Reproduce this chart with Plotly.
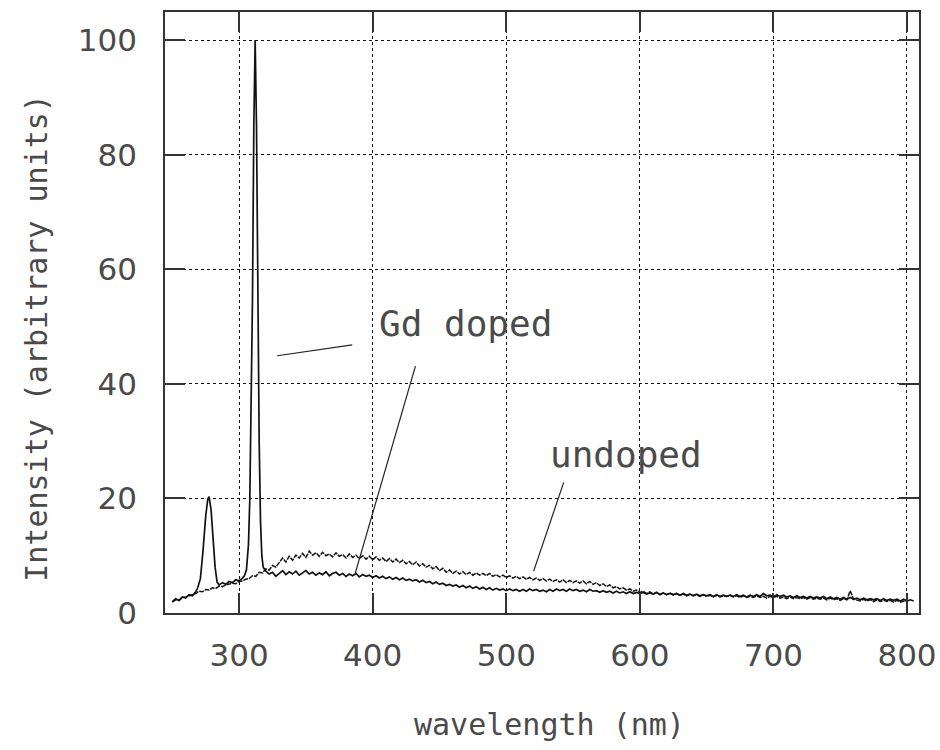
import plotly.graph_objects as go

# Gd doped sample: start of the band plus the two Gd lines (~277 nm and ~312 nm)
gd_peak_wavelength = [
    250, 252.5, 255, 257.5, 260, 262.5, 265, 267.5, 269, 271, 273, 275, 276.5,
    277.5, 279, 280.5, 282, 283.5, 285, 287.5, 290, 292.5, 295, 297.5, 300,
    302.5, 304, 305.5, 307, 308, 309, 310, 311, 312, 313, 314, 315, 316, 317,
    318, 320,
]
gd_peak_intensity = [
    2.0, 2.5, 2.2, 2.8, 2.6, 3.2, 3.0, 3.7, 4.4, 6.0, 11.0, 17.0, 19.8,
    20.3, 18.0, 13.0, 8.0, 5.4, 4.9, 5.3, 5.0, 5.5, 5.3, 5.8, 5.6,
    6.1, 6.5, 7.6, 12.0, 20.0, 35.0, 55.0, 85.0, 100.0, 85.0, 55.0, 30.0, 16.0, 10.0,
    8.0, 7.3,
]
# Gd doped sample, 322.5-800 nm in 2.5 nm steps
gd_tail_start, gd_tail_step = 322.5, 2.5
gd_tail_intensity = [
    6.8, 7.1, 6.4, 6.9, 7.4, 6.7, 7.2, 6.8, 7.3, 6.6, 7.0, 7.4, 6.8, 7.1, 6.6,
    7.0, 6.7, 7.2, 6.5, 6.9, 7.1, 6.6, 6.9, 6.4, 6.8, 6.5, 6.9, 6.3, 6.7, 6.4,
    6.6, 6.2, 6.5, 6.1, 6.4, 6.0, 6.3, 5.9, 6.2, 5.8, 6.1, 5.7, 5.9, 5.6, 5.8,
    5.4, 5.7, 5.3, 5.5, 5.1, 5.4, 5.0, 5.2, 4.8, 5.0, 4.7, 4.9, 4.5, 4.8, 4.4,
    4.7, 4.3, 4.6, 4.2, 4.5, 4.1, 4.4, 4.0, 4.3, 4.0, 4.2, 3.9, 4.2, 3.9, 4.1,
    3.8, 4.1, 3.8, 4.2, 3.9, 4.1, 3.8, 4.0, 3.7, 4.1, 3.8, 4.2, 3.9, 4.1, 3.8,
    4.2, 3.9, 4.1, 3.8, 4.0, 3.7, 4.1, 3.8, 3.9, 3.6, 3.9, 3.6, 3.8, 3.5, 3.8,
    3.5, 3.7, 3.4, 3.7, 3.4, 3.6, 3.4, 3.6, 3.3, 3.5, 3.3, 3.6, 3.2, 3.5, 3.2,
    3.4, 3.2, 3.4, 3.1, 3.4, 3.1, 3.3, 3.0, 3.3, 3.0, 3.2, 3.0, 3.2, 2.9, 3.2,
    2.9, 3.1, 2.9, 3.1, 2.9, 3.2, 2.9, 3.1, 2.8, 3.1, 2.9, 3.2, 2.9, 3.4, 3.0,
    3.1, 2.8, 3.2, 2.9, 3.1, 2.8, 3.0, 2.7, 3.0, 2.7, 2.9, 2.6, 2.9, 2.6, 2.8,
    2.6, 2.9, 2.5, 2.8, 2.5, 2.7, 2.4, 2.7, 2.4, 2.7, 2.4, 2.6, 2.3, 2.6, 2.3,
    2.5, 2.3, 2.5, 2.2, 2.5, 2.2, 2.4, 2.2, 2.4, 2.1, 2.4, 2.1, 2.3, 2.1,
]

# Undoped sample, 250-800 nm in 2.5 nm steps
undoped_start, undoped_step = 250.0, 2.5
undoped_intensity = [
    1.9, 2.3, 2.2, 2.7, 2.8, 3.0, 3.3, 3.4, 3.8, 3.7, 4.1, 4.0, 4.4, 4.3, 4.7,
    4.6, 4.9, 5.0, 5.2, 5.1, 5.5, 5.6, 5.9, 6.0, 6.5, 6.4, 7.1, 7.0, 7.7, 7.5,
    8.3, 8.0, 8.8, 9.6, 8.9, 9.9, 9.2, 10.1, 9.6, 10.4, 9.7, 10.8, 10.1, 10.5, 9.9,
    10.6, 10.0, 10.3, 9.8, 10.5, 9.9, 10.2, 9.6, 10.3, 9.7, 10.1, 9.5, 10.0, 9.4, 9.9,
    9.3, 9.8, 9.2, 9.6, 9.0, 9.5, 8.9, 9.4, 8.8, 9.2, 8.6, 9.0, 8.4, 8.9, 8.2,
    8.6, 8.0, 8.3, 7.7, 8.1, 7.4, 7.8, 7.1, 7.5, 6.9, 7.3, 6.8, 7.2, 6.7, 7.1,
    6.6, 7.0, 6.6, 6.9, 6.5, 6.9, 6.4, 6.7, 6.3, 6.6, 6.2, 6.5, 6.1, 6.4, 6.0,
    6.3, 5.9, 6.2, 5.8, 6.1, 5.7, 6.0, 5.6, 5.9, 5.5, 5.8, 5.4, 5.8, 5.3, 5.7,
    5.3, 5.6, 5.2, 5.6, 5.1, 5.5, 5.0, 5.3, 4.8, 5.1, 4.6, 4.9, 4.4, 4.6, 4.2,
    4.4, 4.0, 4.2, 3.8, 4.0, 3.6, 3.8, 3.4, 3.7, 3.3, 3.6, 3.3, 3.5, 3.2, 3.5,
    3.1, 3.4, 3.1, 3.3, 3.0, 3.3, 3.0, 3.2, 2.9, 3.2, 2.9, 3.1, 2.8, 3.1, 2.8,
    3.0, 2.9, 3.1, 2.8, 3.0, 2.7, 3.0, 2.7, 2.9, 2.7, 3.0, 2.7, 2.9, 2.6, 2.9,
    2.7, 2.9, 2.6, 2.8, 2.5, 2.8, 2.5, 2.7, 2.5, 2.7, 2.4, 2.7, 2.4, 2.6, 2.4,
    2.6, 2.3, 2.6, 2.3, 2.5, 2.2, 2.5, 2.3, 3.9, 2.4, 2.3, 2.1, 2.4, 2.1, 2.3,
    2.0, 2.3, 2.0, 2.2, 2.0, 2.2, 1.9, 2.2, 1.9, 2.1, 2.0,
]

x_ticks = [300, 400, 500, 600, 700, 800]
y_ticks = [0, 20, 40, 60, 80, 100]

# Curve labels and their pointer lines (data coordinates)
labels = [
    ("Gd doped", 469.5, 50.6),
    ("undoped", 589.8, 27.6),
]
pointers = [
    (328.5, 44.9, 384.7, 46.8),
    (432.0, 43.1, 387.0, 7.0),
    (543.0, 22.8, 520.5, 7.3),
]

gd_wavelength = gd_peak_wavelength + [
    gd_tail_start + gd_tail_step * i for i in range(len(gd_tail_intensity))
]
gd_intensity = gd_peak_intensity + gd_tail_intensity
undoped_wavelength = [
    undoped_start + undoped_step * i for i in range(len(undoped_intensity))
]

TITLE_FONT = "DejaVu Sans Mono"
TICK_FONT = "DejaVu Sans"
TEXT_COLOR = "#4a4a4a"

fig = go.Figure()
fig.add_trace(go.Scatter(
    x=undoped_wavelength, y=undoped_intensity, mode="lines",
    line=dict(color="#141414", width=1.5, dash="5px,1px"), name="undoped",
))
fig.add_trace(go.Scatter(
    x=gd_wavelength, y=gd_intensity, mode="lines",
    line=dict(color="#111111", width=1.7), name="Gd doped",
))

for x0, y0, x1, y1 in pointers:
    fig.add_shape(type="line", x0=x0, y0=y0, x1=x1, y1=y1,
                  xref="x", yref="y", line=dict(color="#222", width=1.2))

for text, x, y in labels:
    fig.add_annotation(x=x, y=y, text=text, showarrow=False,
                       xanchor="center", yanchor="middle",
                       font=dict(family=TITLE_FONT, size=36, color=TEXT_COLOR))

# Axis titles
fig.add_annotation(x=0.5106, y=-0.186, xref="paper", yref="paper",
                   xanchor="center", yanchor="middle",
                   text="wavelength (nm)", showarrow=False,
                   font=dict(family=TITLE_FONT, size=30, color=TEXT_COLOR))
fig.add_annotation(x=-0.170, y=0.4576, xref="paper", yref="paper",
                   xanchor="center", yanchor="middle",
                   text="Intensity (arbitrary units)", showarrow=False,
                   textangle=-90,
                   font=dict(family=TITLE_FONT, size=30, color=TEXT_COLOR))

axis_common = dict(
    showline=True, linecolor="#333", linewidth=1.6, mirror="ticks",
    ticks="inside", ticklen=20, tickwidth=1.6, tickcolor="#333",
    showgrid=True, gridcolor="#111", gridwidth=1, griddash="dot",
    zeroline=False,
    tickfont=dict(family=TICK_FONT, size=31, color=TEXT_COLOR),
)

fig.update_xaxes(range=[244.5, 809], tickvals=x_ticks,
                 ticklabelstandoff=14, **axis_common)
fig.update_yaxes(range=[0, 104.9], tickvals=y_ticks,
                 ticklabelstandoff=20, **axis_common)

fig.update_layout(
    width=940, height=750,
    margin=dict(l=165, r=21, t=12, b=137, autoexpand=False),
    plot_bgcolor="white", paper_bgcolor="white",
    showlegend=False,
)

fig.write_html("out.html")
